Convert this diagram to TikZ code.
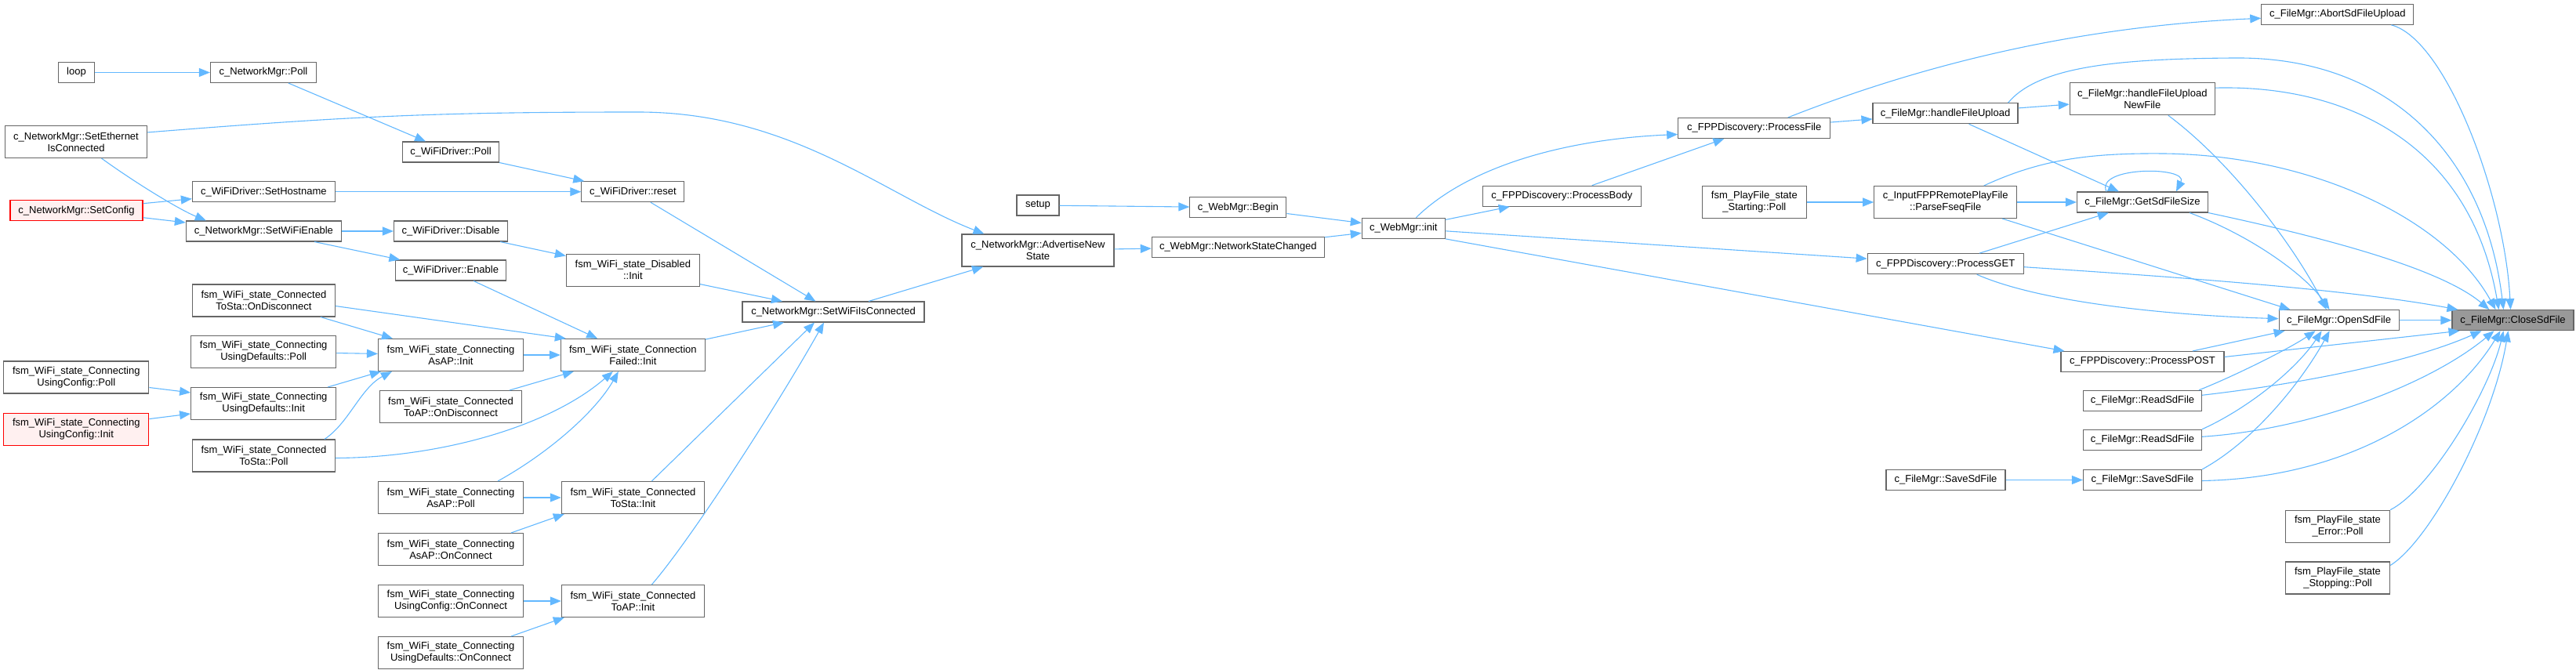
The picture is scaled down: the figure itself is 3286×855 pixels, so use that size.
\documentclass[tikz,border=0pt]{standalone}
\usepackage{fontspec}
\setmainfont{Liberation Sans}
\usetikzlibrary{arrows.meta,calc}
\definecolor{callblue}{HTML}{63B8FF}
\definecolor{boxgray}{HTML}{666666}
\definecolor{curgray}{HTML}{999999}
\definecolor{boxred}{HTML}{FFF0F0}

\begin{document}
\begin{tikzpicture}[x=0.5pt,y=-0.5pt,font=\fontsize{6.5pt}{7.5pt}\selectfont,
  >={Triangle[length=7pt,width=5.5pt]},
  b/.style={draw=boxgray,line width=0.55pt,fill=white,inner sep=0pt,minimum height=13pt,align=center},
  bb/.style={b,minimum height=20.5pt},
  rb/.style={draw=red,fill=boxred},
  hb/.style={fill=curgray},
  ar/.style={->,draw=callblue,line width=0.55pt}]
\useasboundingbox (0,0) rectangle (3286,855);

% WiFi / network side
\node[b,minimum width=23pt] (loop) at (97.5,92.5) {loop};
\node[b,minimum width=67.5pt] (nmpoll) at (336,92.5) {c\_NetworkMgr::Poll};
\node[bb,minimum width=90.5pt] (seteth) at (97,181) {c\_NetworkMgr::SetEthernet\\IsConnected};
\node[b,minimum width=61.5pt] (wdpoll) at (575,194) {c\_WiFiDriver::Poll};
\node[b,minimum width=91pt] (sethost) at (336.4,244.7) {c\_WiFiDriver::SetHostname};
\node[b,rb,minimum width=84.5pt] (setcfg) at (97.5,268.7) {c\_NetworkMgr::SetConfig};
\node[b,minimum width=99pt] (setwifi) at (336.4,295) {c\_NetworkMgr::SetWiFiEnable};
\node[b,minimum width=72.5pt] (wddis) at (575,295) {c\_WiFiDriver::Disable};
\node[b,minimum width=70.5pt] (wden) at (575,345) {c\_WiFiDriver::Enable};
\node[bb,minimum width=91pt] (stadisc) at (336.4,383.5) {fsm\_WiFi\_state\_Connected\\ToSta::OnDisconnect};
\node[bb,minimum width=92.5pt] (defpoll) at (336.2,449) {fsm\_WiFi\_state\_Connecting\\UsingDefaults::Poll};
\node[bb,minimum width=92.5pt] (apinit) at (575,453) {fsm\_WiFi\_state\_Connecting\\AsAP::Init};
\node[bb,minimum width=92.5pt] (cfgpoll) at (97.3,481.5) {fsm\_WiFi\_state\_Connecting\\UsingConfig::Poll};
\node[bb,minimum width=92.5pt] (definit) at (336.2,515) {fsm\_WiFi\_state\_Connecting\\UsingDefaults::Init};
\node[bb,minimum width=90.5pt] (apdisc) at (575,519) {fsm\_WiFi\_state\_Connected\\ToAP::OnDisconnect};
\node[bb,rb,minimum width=92.5pt] (cfginit) at (97.3,547.6) {fsm\_WiFi\_state\_Connecting\\UsingConfig::Init};
\node[bb,minimum width=91pt] (stapoll) at (336.4,581.5) {fsm\_WiFi\_state\_Connected\\ToSta::Poll};
\node[bb,minimum width=92.5pt] (appoll) at (575,635) {fsm\_WiFi\_state\_Connecting\\AsAP::Poll};
\node[bb,minimum width=92.5pt] (apconn) at (575,701) {fsm\_WiFi\_state\_Connecting\\AsAP::OnConnect};
\node[bb,minimum width=92.5pt] (cfgconn) at (575,767) {fsm\_WiFi\_state\_Connecting\\UsingConfig::OnConnect};
\node[bb,minimum width=92.5pt] (defconn) at (575,833) {fsm\_WiFi\_state\_Connecting\\UsingDefaults::OnConnect};
\node[b,minimum width=65.5pt] (reset) at (807.4,244.7) {c\_WiFiDriver::reset};
\node[bb,minimum width=85pt] (disinit) at (807.4,344.8) {fsm\_WiFi\_state\_Disabled\\::Init};
\node[bb,minimum width=92pt] (failinit) at (807.4,453) {fsm\_WiFi\_state\_Connection\\Failed::Init};
\node[bb,minimum width=91pt] (stainit) at (807.4,635) {fsm\_WiFi\_state\_Connected\\ToSta::Init};
\node[bb,minimum width=91pt] (toapinit) at (807.4,767) {fsm\_WiFi\_state\_Connected\\ToAP::Init};
\node[b,minimum width=116pt] (wificon) at (1063,398) {c\_NetworkMgr::SetWiFiIsConnected};
\node[b,minimum width=27pt] (setup) at (1324,262) {setup};
\node[bb,minimum width=97pt] (advert) at (1324,319.5) {c\_NetworkMgr::AdvertiseNew\\State};
\node[b,minimum width=61.5pt] (begin) at (1579.4,264.7) {c\_WebMgr::Begin};
\node[b,minimum width=110pt] (netchg) at (1579.3,315.3) {c\_WebMgr::NetworkStateChanged};
\node[b,minimum width=53pt] (init) at (1790.3,291.3) {c\_WebMgr::init};

% file side
\node[b,minimum width=101pt] (body) at (1992.4,250.2) {c\_FPPDiscovery::ProcessBody};
\node[b,minimum width=97pt] (pfile) at (2237.7,163.5) {c\_FPPDiscovery::ProcessFile};
\node[bb,minimum width=66.5pt] (starting) at (2237.8,258) {fsm\_PlayFile\_state\\\_Starting::Poll};
\node[b,minimum width=92.5pt] (upload) at (2481.5,144.8) {c\_FileMgr::handleFileUpload};
\node[bb,minimum width=91pt] (parse) at (2481.7,258) {c\_InputFPPRemotePlayFile\\::ParseFseqFile};
\node[b,minimum width=99.5pt] (get) at (2481.7,336.7) {c\_FPPDiscovery::ProcessGET};
\node[b,minimum width=76pt] (save1) at (2482,612.5) {c\_FileMgr::SaveSdFile};
\node[bb,minimum width=92.5pt] (newfile) at (2732.8,126.2) {c\_FileMgr::handleFileUpload\\NewFile};
\node[b,minimum width=83.5pt] (size) at (2733,258) {c\_FileMgr::GetSdFileSize};
\node[b,minimum width=104pt] (post) at (2733,461.5) {c\_FPPDiscovery::ProcessPOST};
\node[b,minimum width=75.5pt] (read1) at (2733,511.3) {c\_FileMgr::ReadSdFile};
\node[b,minimum width=75.5pt] (read2) at (2733,561.3) {c\_FileMgr::ReadSdFile};
\node[b,minimum width=75.5pt] (save2) at (2733,612.5) {c\_FileMgr::SaveSdFile};
\node[b,minimum width=97pt] (abort) at (2981.8,18.3) {c\_FileMgr::AbortSdFileUpload};
\node[b,minimum width=76.5pt] (open) at (2983.6,408.7) {c\_FileMgr::OpenSdFile};
\node[b,hb,minimum width=77.5pt] (close) at (3205.5,408.7) {c\_FileMgr::CloseSdFile};
\node[bb,minimum width=66.5pt] (errpoll) at (2982,671.7) {fsm\_PlayFile\_state\\\_Error::Poll};
\node[bb,minimum width=66.5pt] (stoppoll) at (2982,737.5) {fsm\_PlayFile\_state\\\_Stopping::Poll};

% calls, WiFi side
\draw[ar] (loop) -- (nmpoll);
\draw[ar] (nmpoll) -- (wdpoll);
\draw[ar] (wdpoll) -- (reset);
\draw[ar] ($(seteth.north east)+(0,9)$) .. controls (450,148) and (560,143) .. (814,143)
  .. controls (1010,143) and (1130,250) .. ($(advert.north west)+(29,0)$);
\draw[ar] ($(seteth.south)+(32.5,0)$) .. controls (175,235) and (230,268) .. ($(setwifi.north west)+(26,0)$);
\draw[ar] ($(setcfg.east)+(0,-9)$) -- ($(sethost.west)+(0,9)$);
\draw[ar] ($(setcfg.east)+(0,9)$) -- ($(setwifi.west)+(0,-11)$);
\draw[ar] (sethost) -- (reset);
\draw[ar] (setwifi) -- (wddis);
\draw[ar] (setwifi) -- (wden);
\draw[ar] (wddis) -- (disinit);
\draw[ar] (wden) -- (failinit);
\draw[ar] ($(stadisc.east)+(0,7)$) -- ($(failinit.north west)+(7,0)$);
\draw[ar] ($(stadisc.south east)+(-19,0)$) -- ($(apinit.north west)+(19,0)$);
\draw[ar] (defpoll) -- (apinit);
\draw[ar] ($(definit.north east)+(-11,0)$) -- ($(apinit.south west)+(4,0)$);
\draw[ar] ($(stapoll.north east)+(-14,0)$) .. controls (445,540) and (460,495) .. ($(apinit.south west)+(18,0)$);
\draw[ar] ($(cfgpoll.east)+(0,13)$) -- ($(definit.west)+(0,-14)$);
\draw[ar] ($(cfginit.east)+(0,-13)$) -- ($(definit.west)+(0,13)$);
\draw[ar] (apinit) -- (failinit);
\draw[ar] ($(apdisc.north east)+(-16,0)$) -- ($(failinit.south west)+(17,0)$);
\draw[ar] ($(stapoll.east)+(0,3)$) .. controls (560,584) and (700,545) .. ($(failinit.south west)+(67,0)$);
\draw[ar] ($(appoll.north east)+(-33,0)$) .. controls (700,578) and (760,525) .. ($(failinit.south west)+(74,0)$);
\draw[ar] (appoll) -- (stainit);
\draw[ar] ($(apconn.north east)+(-16,0)$) -- ($(stainit.south west)+(4,0)$);
\draw[ar] (cfgconn) -- (toapinit);
\draw[ar] ($(defconn.north east)+(-16,0)$) -- ($(toapinit.south west)+(4,0)$);
\draw[ar] (reset) -- (wificon);
\draw[ar] (disinit) -- (wificon);
\draw[ar] (failinit) -- (wificon);
\draw[ar] ($(stainit.north)+(24,0)$) -- ($(wificon.south)+(-24,0)$);
\draw[ar] ($(toapinit.north)+(24,0)$) .. controls (880,690) and (990,520) .. ($(wificon.south)+(-12,0)$);
\draw[ar] (wificon) -- (advert);
\draw[ar] (advert) -- (netchg);
\draw[ar] (setup) -- (begin);
\draw[ar] (begin) -- (init);
\draw[ar] (netchg) -- (init);

% calls, file side
\draw[ar] ($(init.north)+(16,0)$) .. controls (1870,215) and (1990,178) .. ($(pfile.west)+(0,8)$);
\draw[ar] (init) -- (body);
\draw[ar] (init) -- (get);
\draw[ar] (init.south east) -- ($(post.north west)+(5,0)$);
\draw[ar] (body) -- (pfile);
\draw[ar] ($(pfile.north)+(43,0)$) .. controls (2420,95) and (2620,35) .. ($(abort.west)+(0,5)$);
\draw[ar] (pfile) -- (upload);
\draw[ar] (upload) -- (newfile);
\draw[ar] (upload) -- (size);
\draw[ar] (starting) -- (parse);
\draw[ar] (parse) -- (size);
\draw[ar] (get) -- (size);
\draw[ar] (save1) -- (save2);
\draw[ar] ($(size.north west)+(38,0)$) .. controls (2672,212) and (2792,212) .. ($(size.north west)+(127,0)$);
\draw[ar] (open) -- (close);
\draw[ar] ($(abort.south east)+(-29,0)$) .. controls (3120,50) and (3195,250) .. ($(close.north)+(-3,0)$);
\draw[ar] ($(upload.north)+(80,0)$) .. controls (2600,85) and (2700,75) .. (2850,74)
  .. controls (3050,72) and (3170,200) .. ($(close.north)+(-12,0)$);
\draw[ar] ($(newfile.north east)+(0,7)$) .. controls (2990,108) and (3150,180) .. ($(close.north)+(-18,0)$);
\draw[ar] ($(parse.north)+(49,0)$) .. controls (2600,205) and (2660,195) .. (2760,196)
  .. controls (2950,198) and (3120,280) .. ($(close.north)+(-22,0)$);
\draw[ar] (size.south east) .. controls (2950,300) and (3110,340) .. ($(close.north west)+(48,0)$);
\draw[ar] ($(get.east)+(0,4)$) .. controls (2800,355) and (3000,370) .. ($(close.north west)+(8,0)$);
\draw[ar] ($(post.east)+(0,-6)$) -- ($(close.south west)+(10,0)$);
\draw[ar] ($(read1.east)+(0,-7)$) .. controls (2950,488) and (3080,460) .. ($(close.south)+(-40,0)$);
\draw[ar] ($(read2.east)+(0,-4)$) .. controls (2950,548) and (3100,490) .. ($(close.south)+(-24,0)$);
\draw[ar] ($(save2.east)+(0,1)$) .. controls (3000,610) and (3130,520) .. ($(close.south)+(-16,0)$);
\draw[ar] (errpoll.north east) .. controls (3100,625) and (3175,500) .. ($(close.south)+(-12,0)$);
\draw[ar] ($(stoppoll.east)+(0,-16)$) .. controls (3100,690) and (3180,540) .. ($(close.south)+(-6,0)$);
\draw[ar] ($(get.south)+(40,0)$) .. controls (2600,385) and (2760,402) .. ($(open.west)+(0,-2)$);
\draw[ar] ($(parse.south east)+(-19,0)$) -- ($(open.north west)+(15,0)$);
\draw[ar] ($(size.south)+(60,0)$) .. controls (2870,300) and (2940,350) .. ($(open.north)+(-12,0)$);
\draw[ar] ($(newfile.south)+(33,0)$) .. controls (2850,210) and (2930,320) .. ($(open.north)+(-16,0)$);
\draw[ar] ($(post.north)+(64,0)$) -- ($(open.south west)+(8,0)$);
\draw[ar] ($(read1.north east)+(-4,0)$) .. controls (2850,480) and (2920,445) .. ($(open.south)+(-30,0)$);
\draw[ar] (read2.north east) .. controls (2870,520) and (2930,470) .. ($(open.south)+(-22,0)$);
\draw[ar] (save2.north east) .. controls (2880,560) and (2940,480) .. ($(open.south)+(-12,0)$);
\end{tikzpicture}
\end{document}
